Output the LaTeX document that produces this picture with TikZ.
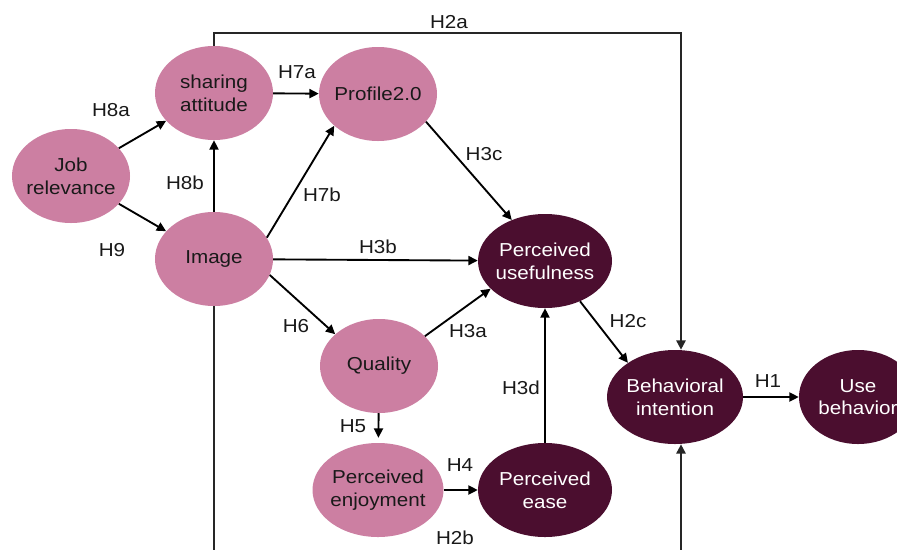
\documentclass[tikz,border=0pt]{standalone}
\usepackage{fontspec}
\setmainfont{Liberation Sans}[FakeStretch=1.1]
\usetikzlibrary{shapes.geometric,arrows.meta}
\definecolor{rose}{RGB}{204,127,162}
\definecolor{plum}{RGB}{75,14,47}
\tikzset{
  lv/.style={ellipse,fill=rose,text=black!90,align=center,inner xsep=-10pt,inner ysep=0pt,
    minimum width=3.54cm,minimum height=2.82cm,font=\fontsize{16}{19.3}\selectfont},
  dv/.style={lv,fill=plum,text=white},
  hyp/.style={inner sep=0pt,text=black!90,font=\fontsize{16}{19.3}\selectfont},
  link/.style={line width=1.6pt,-{Triangle[length=0.28cm,width=0.27cm]}}
}
\begin{document}
\begin{tikzpicture}[x=0.03cm,y=-0.03cm]
	\useasboundingbox (0,0) rectangle (897,549);
	\clip (0,0) rectangle (897,549);
	\fill[white] (0,0) rectangle (897,549);
	\node[lv] (JR) at (71,176) {Job\\relevance};
	\node[lv] (SA) at (214,93) {sharing\\attitude};
	\node[lv] (PR) at (378,94) {Profile2.0};
	\node[lv] (IM) at (214,259) {Image};
	\node[lv] (QU) at (379,366) {Quality};
	\node[lv,minimum width=3.93cm] (PE) at (378,490) {Perceived\\enjoyment};
	\node[dv,minimum width=4.02cm] (PU) at (545,261) {Perceived\\usefulness};
	\node[dv,minimum width=4.02cm] (PS) at (545,490) {Perceived\\ease};
	\node[dv,minimum width=4.08cm] (BI) at (675,397) {Behavioral\\intention};
	\node[dv] (UB) at (858,397) {Use\\behavior};
	\coordinate (topR) at (681,33);
	\coordinate (botR) at (681,580);
	\draw[link] (JR) -- (SA);
	\draw[link] (JR) -- (IM);
	\draw[link] (IM) -- (SA);
	\draw[link] (SA) -- (PR);
	\draw[link] (IM.22) -- (PR.216);
	\draw[link] (IM) -- (PU);
	\draw[link] (IM.-16) -- (QU.144);
	\draw[link] (PR.-30) -- (PU.129);
	\draw[link] (QU.33) -- (PU.207);
	\draw[link,shorten >=0.15cm] (QU) -- (PE);
	\draw[link] (PE) -- (PS);
	\draw[link] (PS) -- (PU);
	\draw[link] (PU.-49) -- (BI.144);
	\draw[link] (BI) -- (UB);
	\draw[link,line width=2.4pt,black!85] (SA.north) |- (topR) -- (BI.north -| topR);
	\draw[link,line width=2.4pt,black!85] (IM.south) |- (botR) -- (BI.south -| topR);
	\foreach \t/\x/\y in {H8a/111/110,H9/112/250,H8b/185/183,H7a/297/72,H7b/322/195,
		H3b/378/247,H2a/449/22,H3c/484/154,H6/296/326,H3a/468/331,H3d/521/388,
		H5/353/426,H4/460/465,H2b/455/538,H2c/628/321,H1/768/381}
		{\node[hyp] (\t) at (\x,\y) {\t};}
\end{tikzpicture}
\end{document}
